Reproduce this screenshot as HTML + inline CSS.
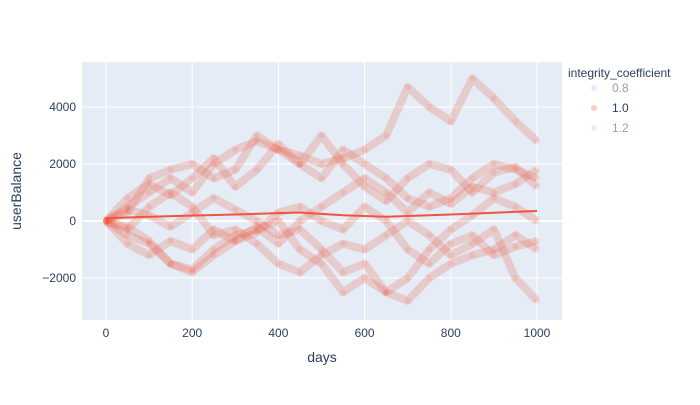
<!DOCTYPE html>
<html><head><meta charset="utf-8"><style>
body{margin:0;background:#fff;font-family:"Liberation Sans",sans-serif}
</style></head><body>
<svg id="chart" width="700" height="400" xmlns="http://www.w3.org/2000/svg" style="font-family:'Liberation Sans',sans-serif">
<rect x="82" y="62" width="480" height="258" fill="#E5ECF6"/>
<g id="grid"></g><g id="walks"></g><g id="trend"></g><g id="ticks"></g>
<text x="322" y="362" font-size="14" fill="#2a3f5f" text-anchor="middle">days</text>
<text transform="translate(21,191) rotate(-90)" font-size="14" fill="#2a3f5f" text-anchor="middle">userBalance</text>
<g>
<text x="568" y="77" font-size="12" fill="#2a3f5f">integrity_coefficient</text>
<g opacity="0.5"><circle cx="594" cy="88" r="3" fill="#636EFA" opacity="0.3"/><text x="612" y="92" font-size="12" fill="#2a3f5f">0.8</text></g>
<g><circle cx="594" cy="108" r="3" fill="#EF553B" opacity="0.3"/><text x="612" y="112" font-size="12" fill="#2a3f5f">1.0</text></g>
<g opacity="0.5"><circle cx="594" cy="128" r="3" fill="#00CC96" opacity="0.3"/><text x="612" y="132" font-size="12" fill="#2a3f5f">1.2</text></g>
</g>
</svg>
<script>
const days=[0,50,100,150,200,250,300,350,400,450,500,550,600,650,700,750,800,850,900,950,1000];
const walkA=[0,500,1000,1500,1000,2000,2500,2800,2500,2300,2000,2200,2500,3000,4700,4000,3500,5000,4300,3500,2800];
const walkB=[0,-500,-800,-1500,-1700,-1000,-500,-300,0,-1000,-1500,-2500,-2000,-2500,-2800,-2000,-1500,-1200,-1000,-500,-1000];
const walkC=[0,300,1500,1800,2000,1500,1800,3000,2500,2000,1500,2500,2000,1500,800,500,800,1500,2000,1800,1500];
const walkD=[0,-300,500,1000,500,-500,-300,-800,-1500,-1800,-1200,-800,-1000,-500,0,-500,-1200,-800,-300,-2000,-2800];
const walkE=[0,800,1300,900,1500,2200,1200,1800,2700,2000,3000,2000,1200,700,1500,2000,1800,1000,1700,1900,1200];
const walkF=[0,-800,-1200,-700,-1000,-300,-700,-400,300,500,0,-300,500,0,-1000,-1500,-800,-500,-1200,-900,-700];
const walkG=[0,400,200,-200,300,800,400,0,-500,-300,-1000,-1800,-1500,-2500,-2000,-1000,-300,200,800,500,0];
const walkH=[0,-200,-700,-1500,-1800,-1200,-700,-200,-800,0,500,1000,1500,1000,300,1000,600,1200,1000,1300,1800];
const trendDays=[0,150,300,450,550,650,800,1000];
const trendVals=[100,170,230,300,200,150,230,350];
const xTicks=[0,200,400,600,800,1000];
const yTicks=[-2000,0,2000,4000];
const X=d=>106+d*0.431, Y=v=>221-v*0.0285;
const ns="http://www.w3.org/2000/svg";
function mk(t,a,p){const e=document.createElementNS(ns,t);for(const k in a)e.setAttribute(k,a[k]);p.appendChild(e);return e;}
const grid=document.getElementById('grid'),ticks=document.getElementById('ticks');
xTicks.forEach(t=>{const l=mk('line',{x1:X(t),x2:X(t),y1:62,y2:320,stroke:'#fff','stroke-width':1},grid);


const tx=mk('text',{x:X(t),y:337,'font-size':12,fill:'#2a3f5f','text-anchor':'middle'},ticks);tx.textContent=t;

});
yTicks.forEach(t=>{const l=mk('line',{x1:82,x2:562,y1:Y(t),y2:Y(t),stroke:'#fff','stroke-width':t===0?2:1},grid);


const tx=mk('text',{x:76,y:Y(t)+4,'font-size':12,fill:'#2a3f5f','text-anchor':'end'},ticks);tx.textContent=t===0?'0':(t<0?'−'+(-t):t);

});
const wg=document.getElementById('walks');
[walkA,walkB,walkC,walkD,walkE,walkF,walkG,walkH].forEach((w,i)=>{
const pts=w.map((v,j)=>X(days[j])+','+Y(v)).join(' ');
const pl=mk('polyline',{points:pts,fill:'none',stroke:'#EF553B','stroke-opacity':0.22,'stroke-width':8,'stroke-linejoin':'round'},wg);


w.forEach((v,j)=>{const c=mk('circle',{cx:X(days[j]),cy:Y(v),r:3,fill:'#EF553B','fill-opacity':0.15},wg);

});});
const tp=mk('polyline',{points:trendDays.map((d,j)=>X(d)+','+Y(trendVals[j])).join(' '),fill:'none',stroke:'#EF553B','stroke-width':2},document.getElementById('trend'));


</script>
</body></html>
